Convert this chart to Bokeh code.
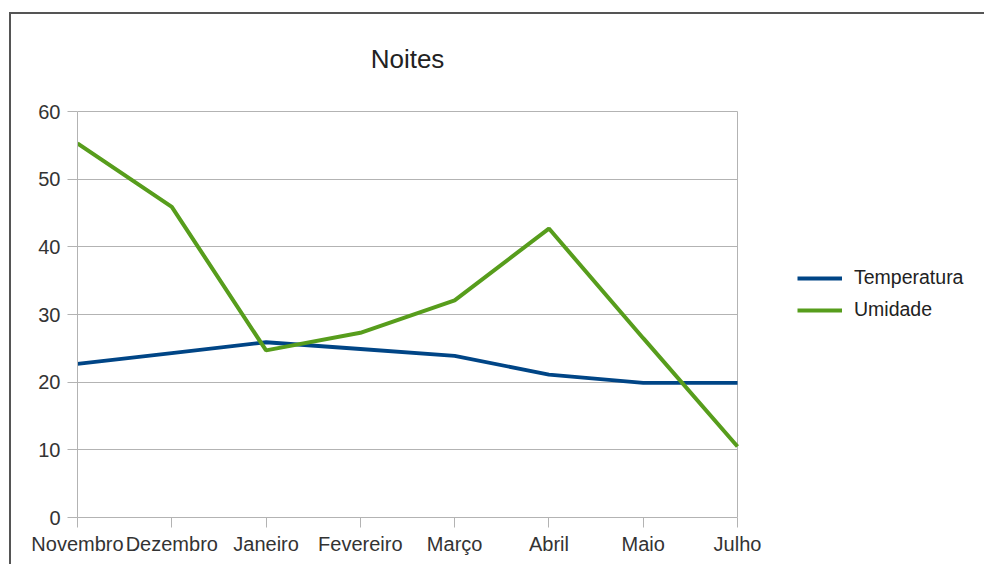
from bokeh.plotting import figure
from bokeh.models import (ColumnDataSource, FixedTicker, Legend, LegendItem, Label, Range1d, Grid)
from bokeh.embed import file_html
from bokeh.resources import INLINE

# ---- data ----
meses = ["Novembro", "Dezembro", "Janeiro", "Fevereiro", "Março", "Abril", "Maio", "Julho"]
temperatura = [22.7, 24.3, 25.9, 24.9, 23.9, 21.1, 19.9, 19.9]
umidade = [55.3, 45.9, 24.7, 27.3, 32.1, 42.7, 26.5, 10.5]
y_ticks = [0, 10, 20, 30, 40, 50, 60]
titulo = "Noites"

FONT = "Liberation Sans"
GRID = "#b3b3b3"
TXT = "#333333"

# layout (pixels)
W, H = 975, 552
ML, MB = 66, 49
FRAME_W, FRAME_H = W - ML, H - MB          # 909 x 503
PLOT_W, PLOT_H = 660, 406                  # drawn chart area inside the frame

n = len(meses)
ymax = y_ticks[-1]
pos = list(range(n))
src = ColumnDataSource(dict(x=pos, temp=temperatura, umid=umidade))

x_end = (n - 1) * FRAME_W / PLOT_W
y_end = ymax * FRAME_H / PLOT_H

p = figure(width=W, height=H, output_backend="svg", toolbar_location=None,
           x_range=Range1d(0, x_end), y_range=Range1d(0, y_end),
           min_border_left=ML, min_border_right=0, min_border_top=0, min_border_bottom=MB,
           title=None)
p.styles = {"border-top": "2px solid #555555", "border-left": "2px solid #555555",
            "margin-top": "12px", "margin-left": "9px"}

p.outline_line_color = None
p.background_fill_color = "white"
p.border_fill_color = "white"

p.xgrid.visible = False
p.ygrid.grid_line_color = GRID
p.ygrid.ticker = FixedTicker(ticks=y_ticks)
p.ygrid.cross_bounds = (0, n - 1)
edge = Grid(dimension=0, ticker=FixedTicker(ticks=[n - 1]), cross_bounds=(0, ymax),
            grid_line_color=GRID)
p.add_layout(edge)

p.yaxis.ticker = FixedTicker(ticks=y_ticks)
p.yaxis.bounds = (0, ymax)
p.xaxis.ticker = FixedTicker(ticks=pos)
p.xaxis.bounds = (0, n - 1)
p.xaxis.major_label_overrides = {i: m for i, m in enumerate(meses)}

for ax in (p.xaxis[0], p.yaxis[0]):
    ax.axis_line_color = GRID
    ax.major_tick_line_color = GRID
    ax.major_tick_out = 10
    ax.major_tick_in = 0
    ax.minor_tick_line_color = None
    ax.major_label_text_font = FONT
    ax.major_label_text_font_size = "20px"
    ax.major_label_text_color = TXT
p.yaxis.major_label_standoff = 7
p.xaxis.major_label_standoff = 5

r1 = p.line("x", "temp", source=src, line_color="#004586", line_width=3.8)
r2 = p.line("x", "umid", source=src, line_color="#579d1c", line_width=4)

title = Label(x=(n - 1) / 2, y=ymax * 1.13, text=titulo, text_font=FONT,
              text_font_size="26px", text_color="#222222",
              text_align="center", text_baseline="middle")
p.add_layout(title)

legend = Legend(items=[LegendItem(label="Temperatura", renderers=[r1]),
                       LegendItem(label="Umidade", renderers=[r2])],
                location=(PLOT_W + 60, 196), margin=0, padding=0,
                glyph_width=45, glyph_height=20, label_height=20, spacing=9,
                label_standoff=12, label_text_font=FONT, label_text_font_size="19.5px",
                label_text_color="#222222", border_line_color=None,
                background_fill_alpha=0)
p.add_layout(legend, "center")

open("out.html", "w").write(file_html(p, INLINE))
